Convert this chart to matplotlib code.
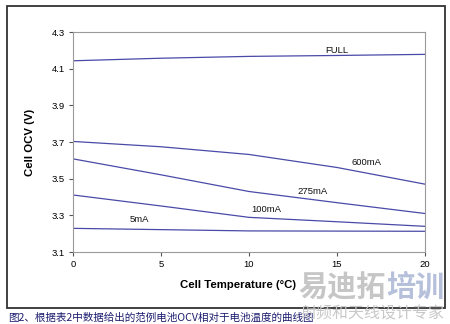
import matplotlib.pyplot as plt
from matplotlib.patches import Rectangle

plt.rcParams['font.family'] = ['Liberation Sans', 'DejaVu Sans']

# 电池温度 (°C) 与各负载电流下的开路电压 (V)
temps = [0, 5, 10, 15, 20]
ocv_full = [4.143, 4.157, 4.167, 4.172, 4.178]
ocv_600ma = [3.703, 3.674, 3.632, 3.561, 3.470]
ocv_275ma = [3.608, 3.521, 3.430, 3.369, 3.310]
ocv_100ma = [3.411, 3.351, 3.289, 3.265, 3.240]
ocv_5ma = [3.229, 3.222, 3.215, 3.214, 3.213]

series = [
    ("FULL", ocv_full, (15.0, 4.198)),
    ("600mA", ocv_600ma, (16.7, 3.588)),
    ("275mA", ocv_275ma, (13.6, 3.430)),
    ("100mA", ocv_100ma, (11.0, 3.332)),
    ("5mA", ocv_5ma, (3.8, 3.276)),
]

yticks = [3.1, 3.3, 3.5, 3.7, 3.9, 4.1, 4.3]
xticks = [0, 5, 10, 15, 20]

line_color = "#4a4aa8"
axis_color = "#9a9a9a"
cjk = ["Noto Sans CJK SC", "DejaVu Sans"]

fig = plt.figure(figsize=(4.5, 3.24), dpi=100)
fig.patch.set_facecolor("white")

# 外框
fig.patches.append(Rectangle((7 / 450, 1 - 308 / 324), 438 / 450, 302 / 324,
                             transform=fig.transFigure, fill=False,
                             edgecolor="#333333", linewidth=1.3))

ax = fig.add_axes([73 / 450, 72 / 324, 352 / 450, 220 / 324])
for name, vals, (lx, ly) in series:
    ax.plot(temps, vals, color=line_color, linewidth=0.9)
    ax.text(lx, ly, name, fontsize=6.8, ha="center", va="center", color="#111111")

ax.set_xlim(0, 20)
ax.set_ylim(3.1, 4.3)
ax.set_xticks(xticks)
ax.set_yticks(yticks)
ax.set_yticklabels([f"{v:.1f}" for v in yticks])
ax.tick_params(labelsize=6.8, length=3, width=0.8, color="#555555", pad=3)
for s in ax.spines.values():
    s.set_color(axis_color)
    s.set_linewidth(0.8)

ax.set_xlabel("Cell Temperature (°C)", fontsize=8.2, fontweight="bold", labelpad=6)
ax.xaxis.set_label_coords(0.469, -0.125)
ax.set_ylabel("Cell OCV (V)", fontsize=8.2, fontweight="bold", labelpad=12)

# 图注
fig.text(8 / 450, 1 - 318 / 324, "图2、根据表2中数据给出的范例电池OCV相对于电池温度的曲线图",
         fontsize=7.6, style="italic", color="#1c1c70",
         va="center", ha="left", family=cjk)

# 水印
fig.text(298 / 450, 1 - 287 / 324, "易迪拓", fontsize=21, fontweight="bold",
         color="#c0c0c0", alpha=0.9, va="center", ha="left", family=cjk)
fig.text(386 / 450, 1 - 287 / 324, "培训", fontsize=21, fontweight="bold",
         color="#aebad8", alpha=0.9, va="center", ha="left", family=cjk)
fig.text(300 / 450, 1 - 314 / 324, "射频和天线设计专家", fontsize=11.5,
         color="#c8c8c8", va="center", ha="left", family=cjk)

fig.savefig("out.png", dpi=100)
